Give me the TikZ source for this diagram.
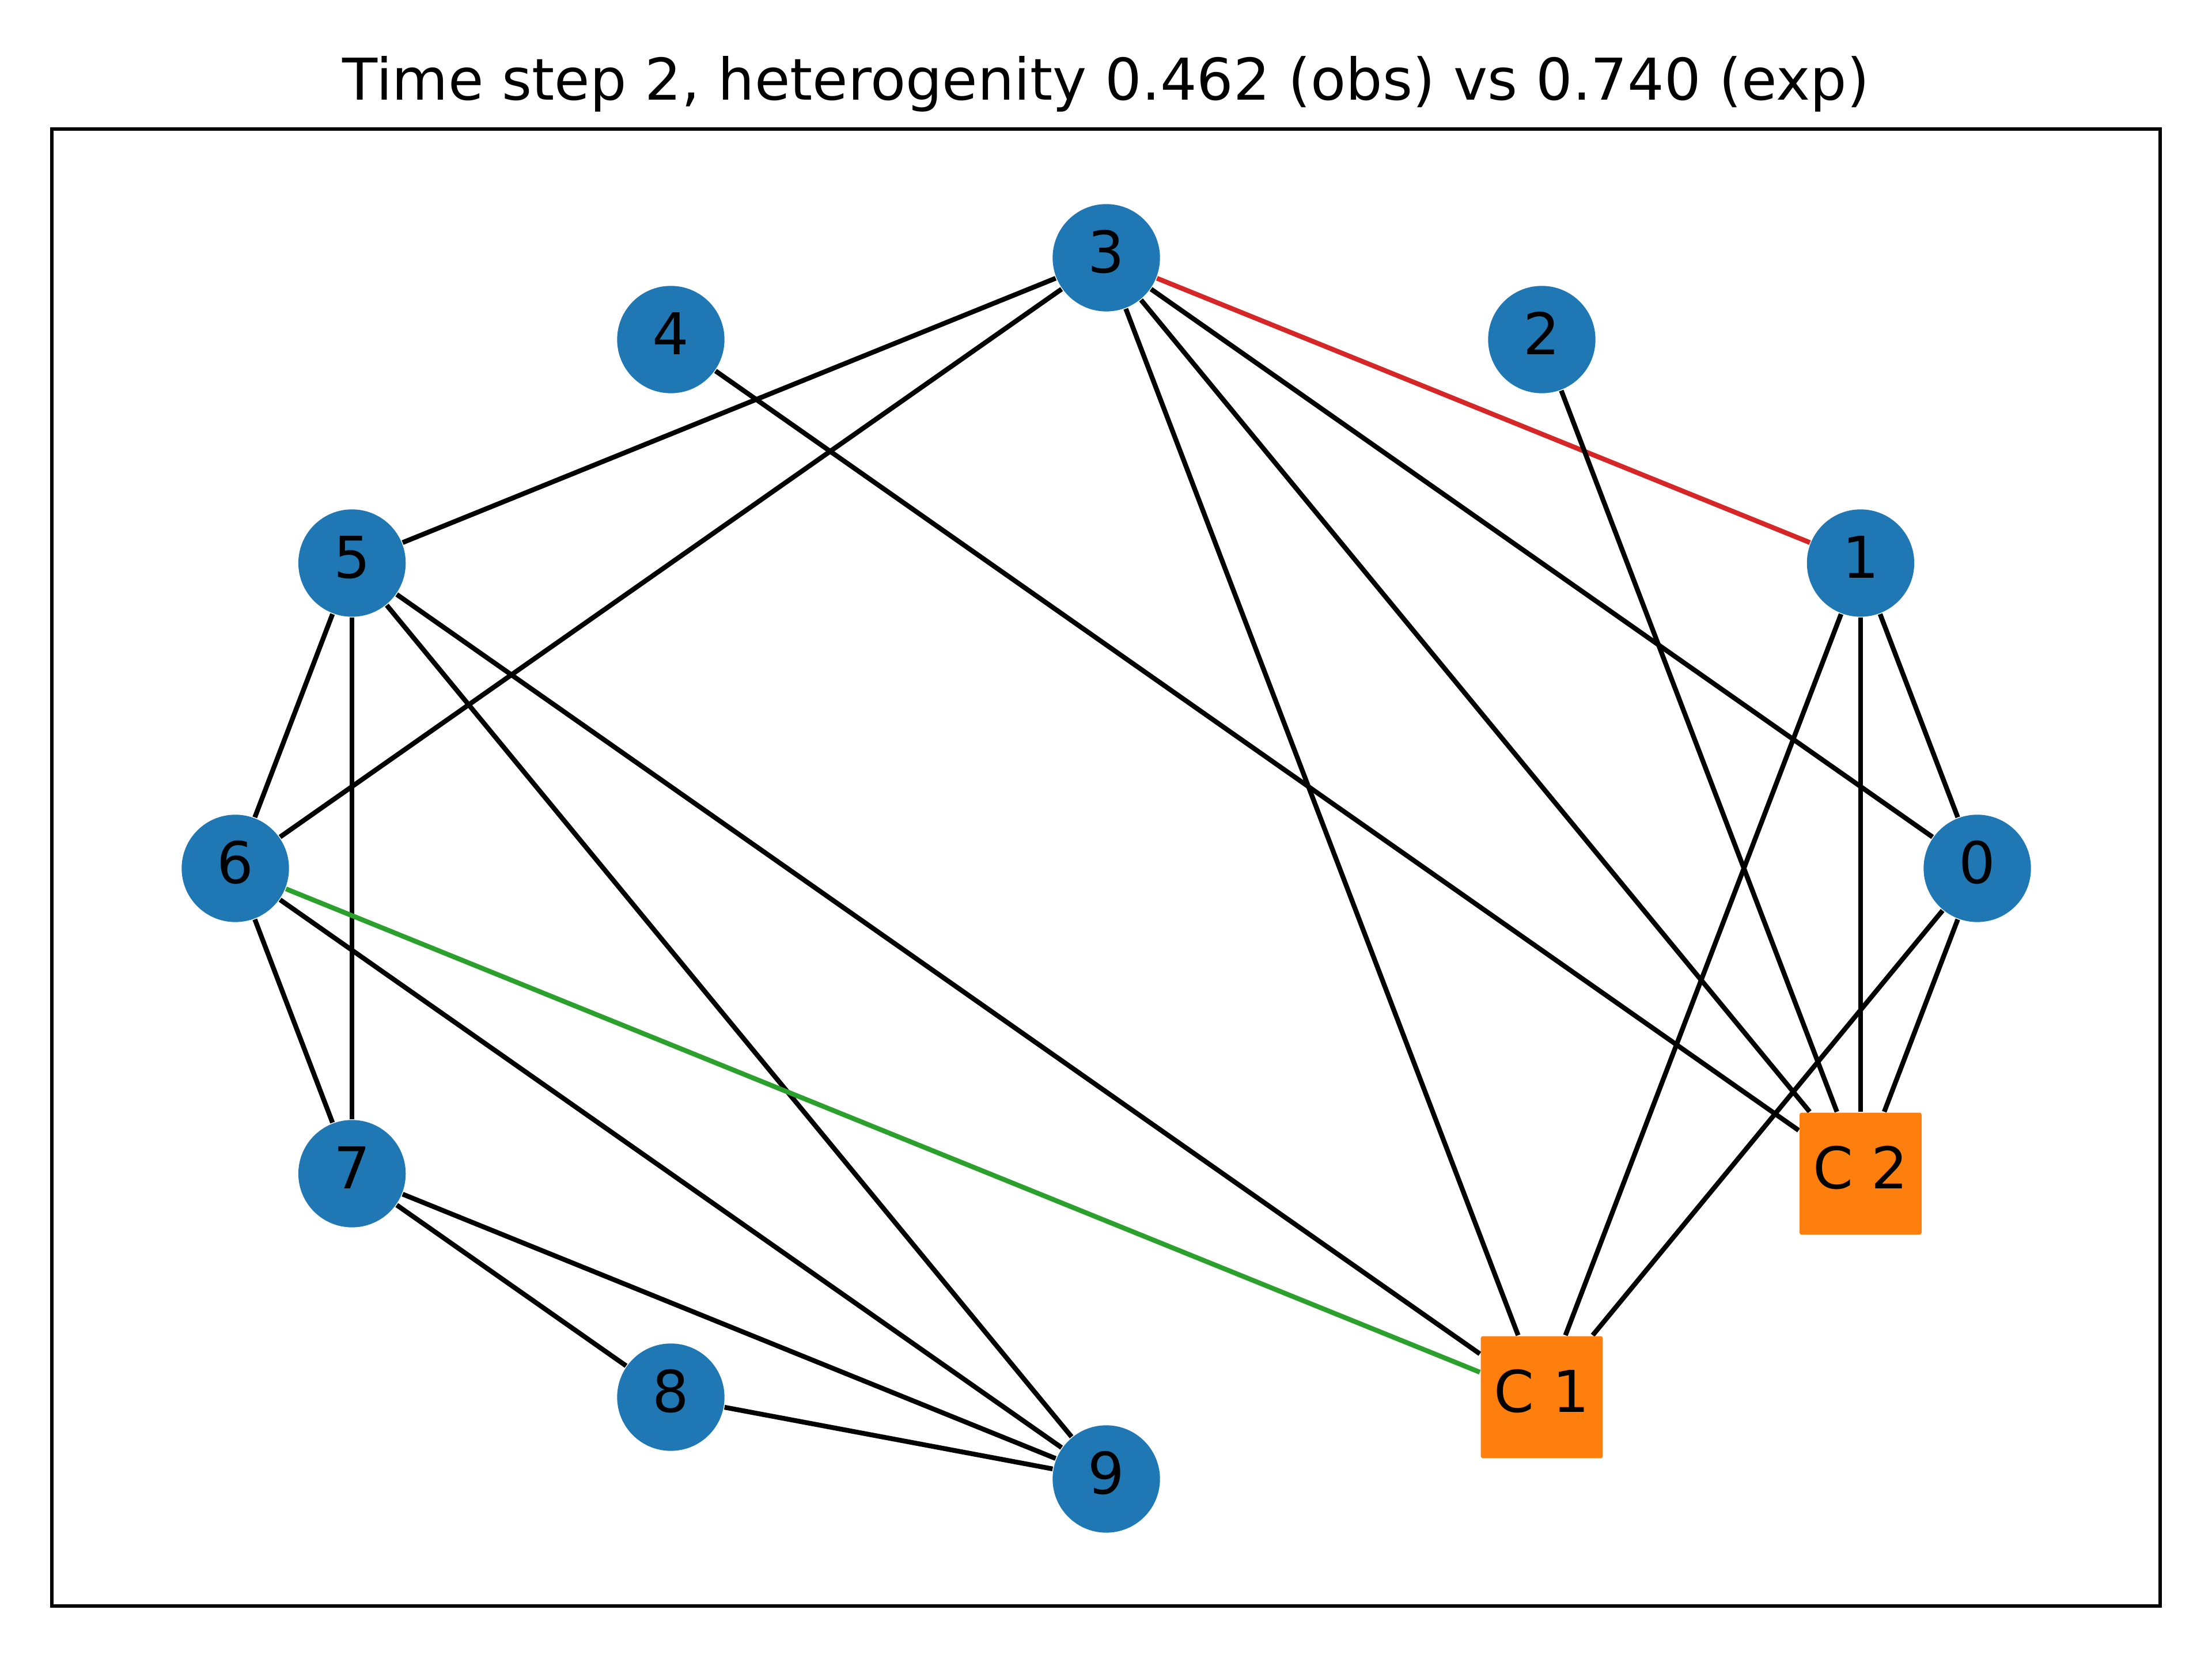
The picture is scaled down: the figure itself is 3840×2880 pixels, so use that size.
\documentclass[tikz,border=0pt]{standalone}
\usepackage{fontspec}
\setmainfont{DejaVu Sans}
\usetikzlibrary{backgrounds}
\definecolor{nblue}{HTML}{1F77B4}
\definecolor{norange}{HTML}{FF7F0E}
\definecolor{ered}{HTML}{D62728}
\definecolor{egreen}{HTML}{2CA02C}
\begin{document}
\begin{tikzpicture}[x=0.12pt,y=-0.12pt,
  lbl/.style={font=\fontsize{12}{14}\selectfont,text height=8.75pt,text depth=2.4pt,inner sep=0pt},
  circ/.style={lbl,circle,fill=nblue,draw=none,minimum size=22.36pt},
  sq/.style={lbl,rectangle,fill=norange,draw=none,rounded corners=0.4pt,minimum size=25.4pt},
  edge/.style={line width=1pt,draw=black},
  frame/.style={line width=0.8pt,draw=black}]
\useasboundingbox (0,0) rectangle (3840,2880);
\node[font=\fontsize{12}{14}\selectfont,anchor=base,inner sep=0pt] (title) at (1920,174) {Time step 2, heterogenity 0.462 (obs) vs 0.740 (exp)};
\draw[frame] (90,224) rectangle (3750,2788);

\node[circ] (n0) at (3432.5,1507.5) {0};
\node[circ] (n1) at (3229.9,977.5) {1};
\node[circ] (n2) at (2676.5,589.5) {2};
\node[circ] (n3) at (1920.5,447.5) {3};
\node[circ] (n4) at (1164.5,589.5) {4};
\node[circ] (n5) at (611.1,977.5) {5};
\node[circ] (n6) at (408.5,1507.5) {6};
\node[circ] (n7) at (611.1,2037.5) {7};
\node[circ] (n8) at (1164.5,2425.5) {8};
\node[circ] (n9) at (1920.5,2567.5) {9};
\node[sq] (c1) at (2676.5,2425.5) {C 1};
\node[sq] (c2) at (3229.9,2037.5) {C 2};

\begin{scope}[on background layer]
\draw[edge] (n3) -- (n5);
\draw[edge] (n3) -- (n6);
\draw[edge,draw=ered] (n3) -- (n1);
\draw[edge] (n3) -- (n0);
\draw[edge] (n3) -- (c2);
\draw[edge] (n3) -- (c1);
\draw[edge] (n4) -- (c2);
\draw[edge] (n2) -- (c2);
\draw[edge] (n1) -- (n0);
\draw[edge] (n1) -- (c2);
\draw[edge] (n1) -- (c1);
\draw[edge] (n0) -- (c2);
\draw[edge] (n0) -- (c1);
\draw[edge] (n5) -- (n6);
\draw[edge] (n5) -- (n7);
\draw[edge] (n5) -- (n9);
\draw[edge] (n5) -- (c1);
\draw[edge] (n6) -- (n7);
\draw[edge] (n6) -- (n9);
\draw[edge,draw=egreen] (n6) -- (c1);
\draw[edge] (n7) -- (n8);
\draw[edge] (n7) -- (n9);
\draw[edge] (n8) -- (n9);
\end{scope}
\end{tikzpicture}
\end{document}
